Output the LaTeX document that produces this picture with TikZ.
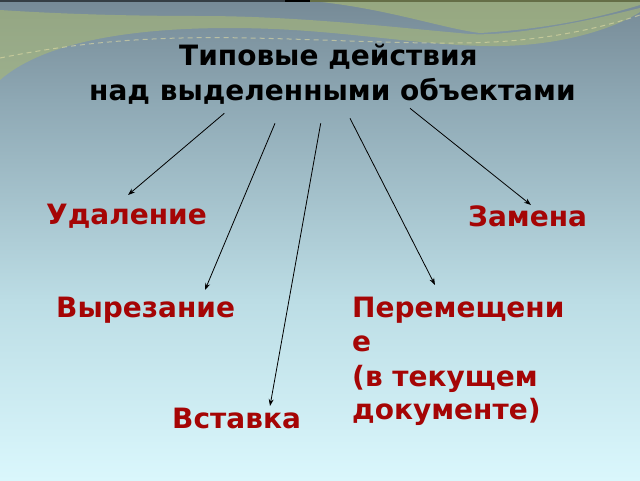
\documentclass[tikz,border=0pt]{standalone}
\usepackage{fontspec}
\setmainfont{DejaVu Sans}
\usetikzlibrary{arrows.meta}
\definecolor{bgA}{RGB}{118,138,150}
\definecolor{bgB}{RGB}{142,168,180}
\definecolor{bgC}{RGB}{188,221,229}
\definecolor{bgD}{RGB}{218,247,252}
\definecolor{wave}{RGB}{168,184,118}
\definecolor{dashc}{RGB}{225,220,165}
\definecolor{lbl}{RGB}{165,5,5}
\tikzset{
  titletext/.style={inner sep=0pt, anchor=base west, font=\fontsize{28}{34}\selectfont\bfseries, text=black},
  redtext/.style={inner sep=0pt, anchor=base west, font=\fontsize{28}{34}\selectfont\bfseries, text=lbl},
  conn/.style={line width=0.8pt, -{Stealth[length=7pt,width=5pt]}},
}
\begin{document}
\begin{tikzpicture}[x=1pt,y=-1pt]
\useasboundingbox (0,0) rectangle (640,480);
% background
\shade[top color=bgA, bottom color=bgB] (0,0) rectangle (640,100.5);
\shade[top color=bgB, bottom color=bgC] (0,100) rectangle (640,300.5);
\shade[top color=bgC, bottom color=bgD] (0,300) rectangle (640,480);
% waves
\fill[wave, opacity=0.6] (0,80) .. controls (40,45) and (120,28) .. (230,28)
   .. controls (340,28) and (420,47) .. (500,46) .. controls (570,45) and (620,25) .. (640,12)
   -- (640,8) .. controls (560,28) and (500,36) .. (470,34)
   .. controls (400,28) and (300,16) .. (200,16) .. controls (100,16) and (30,12) .. (0,10) -- cycle;
\fill[wave, opacity=0.65] (300,0) .. controls (380,6) and (440,28) .. (480,33)
   .. controls (560,28) and (610,14) .. (640,5) -- (640,0) -- cycle;
\draw[dashc, line width=1pt, dash pattern=on 5pt off 4pt, opacity=0.6]
   (0,58) .. controls (80,42) and (150,36) .. (250,38)
   .. controls (350,40) and (450,47) .. (520,40) .. controls (570,35) and (610,25) .. (640,15);
\fill[black!55!bgA] (0,0) rectangle (285,1.5);
\fill[black] (285,0) rectangle (310,1.5);
\fill[black!40!wave] (310,0) rectangle (640,1.5);
% title
\node[titletext] (t1) at (179,65) {Типовые действия};
\node[titletext] (t2) at (89,100) {над выделенными объектами};
% labels
\node[redtext] (del) at (46,224) {Удаление};
\node[redtext] (rep) at (468,226) {Замена};
\node[redtext] (cut) at (56,317.5) {Вырезание};
\node[redtext] (ins) at (172,428) {Вставка};
\node[redtext] (mv1) at (352,317) {Перемещени};
\node[redtext] (mv2) at (352,351) {е};
\node[redtext] (mv3) at (352,386) {(в текущем};
\node[redtext] (mv4) at (352,419) {документе)};
% connector endpoints
\coordinate (s1) at (224.3,113.3);
\coordinate (s2) at (275,123.3);
\coordinate (s3) at (320.7,123.3);
\coordinate (s4) at (350,118.3);
\coordinate (s5) at (410,108.3);
\coordinate (e1) at (128,195);
\coordinate (e2) at (205,290);
\coordinate (e3) at (270,406);
\coordinate (e4) at (435,285);
\coordinate (e5) at (531,205);
\draw[conn] (s1) -- (e1);
\draw[conn] (s2) -- (e2);
\draw[conn] (s3) -- (e3);
\draw[conn] (s4) -- (e4);
\draw[conn] (s5) -- (e5);
\end{tikzpicture}
\end{document}
